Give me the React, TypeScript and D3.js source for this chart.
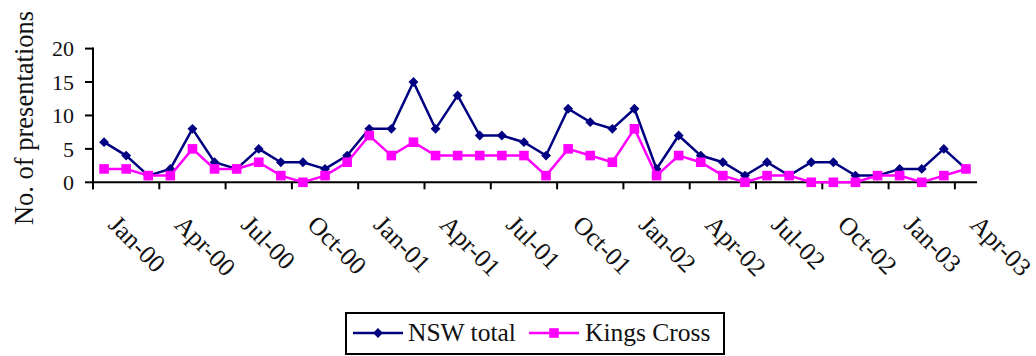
import React from "react";
import * as d3 from "d3";

const months: string[] = [
  "Jan-00","Feb-00","Mar-00","Apr-00","May-00","Jun-00","Jul-00","Aug-00","Sep-00","Oct-00","Nov-00","Dec-00",
  "Jan-01","Feb-01","Mar-01","Apr-01","May-01","Jun-01","Jul-01","Aug-01","Sep-01","Oct-01","Nov-01","Dec-01",
  "Jan-02","Feb-02","Mar-02","Apr-02","May-02","Jun-02","Jul-02","Aug-02","Sep-02","Oct-02","Nov-02","Dec-02",
  "Jan-03","Feb-03","Mar-03","Apr-03",
];
const tickLabels: string[] = [
  "Jan-00","Apr-00","Jul-00","Oct-00","Jan-01","Apr-01","Jul-01","Oct-01",
  "Jan-02","Apr-02","Jul-02","Oct-02","Jan-03","Apr-03",
];
const nswTotal: number[] = [
  6,4,1,2,8,3,2,5,3,3,2,4,
  8,8,15,8,13,7,7,6,4,11,9,8,
  11,2,7,4,3,1,3,1,3,3,1,1,
  2,2,5,2,
];
const kingsCross: number[] = [
  2,2,1,1,5,2,2,3,1,0,1,3,
  7,4,6,4,4,4,4,4,1,5,4,3,
  8,1,4,3,1,0,1,1,0,0,0,1,
  1,0,1,2,
];
const yTicks: number[] = [0, 5, 10, 15, 20];

const FONT = "Liberation Serif";
const NAVY = "#000080";
const MAGENTA = "#FF00FF";
const ts = { fontFamily: FONT };

export default function App() {
  const W = 1036, H = 356;
  const left = 93, right = 977, top = 48.6, bottom = 182.3;
  const x = d3.scaleBand<string>().domain(months).range([left, right]).padding(0);
  const y = d3.scaleLinear().domain([0, 20]).range([bottom, top]);
  const cx = (m: string) => (x(m) as number) + x.bandwidth() / 2;

  const line = d3.line<number>().x((_, i) => cx(months[i])).y((d) => y(d));
  const diamond = d3.symbol().type(d3.symbolDiamond2).size(62)() as string;
  const square = d3.symbol().type(d3.symbolSquare).size(92)() as string;

  const tickIdx = months.map((_, i) => i).filter((i) => i % 3 === 0);

  return (
    <svg width={W} height={H} style={{ position: "absolute", left: 0, top: 0, background: "#fff", fontFamily: FONT }}>
      {/* y axis */}
      <line x1={left} x2={left} y1={top - 1} y2={bottom + 7} stroke="#000" strokeWidth={2} />
      {yTicks.map((t) => (
        <g key={t}>
          <line x1={left - 8} x2={left} y1={y(t)} y2={y(t)} stroke="#000" strokeWidth={2} />
          <text x={74} y={y(t)} dy="0.35em" textAnchor="end" fontSize={22} fill="#111" style={ts}>{t}</text>
        </g>
      ))}
      {/* x axis */}
      <line x1={left} x2={right} y1={bottom} y2={bottom} stroke="#000" strokeWidth={2} />
      {tickIdx.map((i) => (
        <line key={i} x1={x(months[i]) as number} x2={x(months[i]) as number} y1={bottom} y2={bottom + 7} stroke="#000" strokeWidth={2} />
      ))}
      {tickLabels.map((lab) => (
        <text key={lab} transform={`translate(${cx(lab) + 3},${226}) rotate(45)`} fontSize={25.5} fill="#111" style={ts}>{lab}</text>
      ))}
      {/* y title */}
      <text transform={`translate(${33},${118}) rotate(-90)`} textAnchor="middle" fontSize={26.5} fill="#111" style={ts}>No. of presentations</text>

      {/* series */}
      <path d={line(nswTotal) as string} fill="none" stroke={NAVY} strokeWidth={2.5} />
      {nswTotal.map((v, i) => (
        <path key={"n" + i} d={diamond} transform={`translate(${cx(months[i])},${y(v)})`} fill={NAVY} />
      ))}
      <path d={line(kingsCross) as string} fill="none" stroke={MAGENTA} strokeWidth={2.5} />
      {kingsCross.map((v, i) => (
        <path key={"k" + i} d={square} transform={`translate(${cx(months[i])},${y(v)})`} fill={MAGENTA} />
      ))}

      {/* legend */}
      <rect x={346} y={313} width={378} height={41} fill="#fff" stroke="#000" strokeWidth={2} />
      <line x1={353} x2={403} y1={333} y2={333} stroke={NAVY} strokeWidth={2.5} />
      <path d={diamond} transform="translate(378,333)" fill={NAVY} />
      <text x={408} y={341} fontSize={25.5} fill="#111" style={ts}>NSW total</text>
      <line x1={529} x2={579} y1={333} y2={333} stroke={MAGENTA} strokeWidth={2.5} />
      <path d={square} transform="translate(554,333)" fill={MAGENTA} />
      <text x={585} y={341} fontSize={25.5} fill="#111" style={ts}>Kings Cross</text>
    </svg>
  );
}
